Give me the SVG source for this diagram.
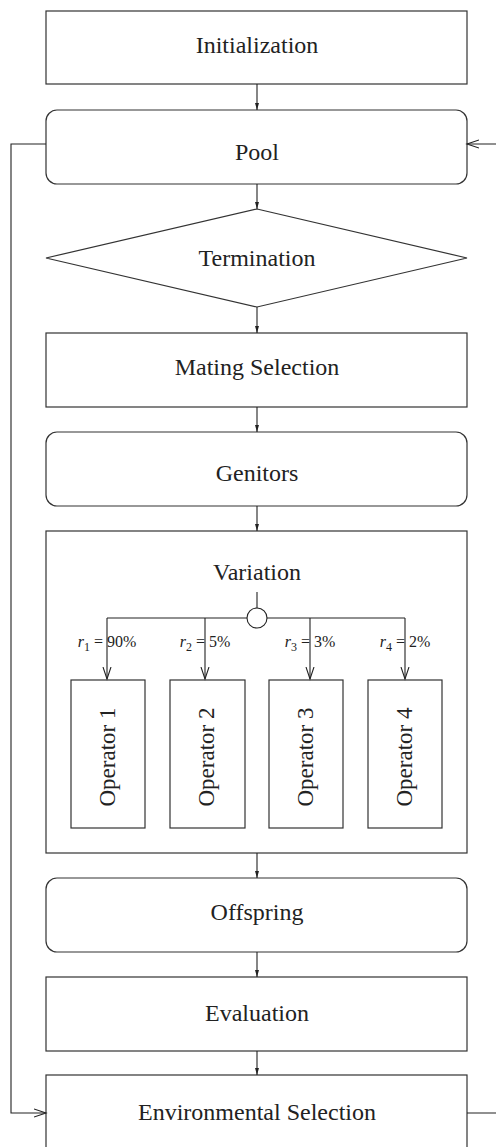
<svg xmlns="http://www.w3.org/2000/svg" width="496" height="1147" viewBox="0 0 496 1147">
<style>
.box{fill:#fff;stroke:#333;stroke-width:1.2}
.ln{fill:none;stroke:#222;stroke-width:1.1}
.t{font-family:"Liberation Serif","Times New Roman",serif;font-size:24px;fill:#222;text-anchor:middle}
.op{font-family:"Liberation Serif","Times New Roman",serif;font-size:23px;fill:#222;text-anchor:middle}
.lb{font-family:"Liberation Serif","Times New Roman",serif;font-size:16px;fill:#222;text-anchor:middle}
</style>
<defs>
<marker id="sm" markerWidth="8" markerHeight="6" refX="7" refY="3" orient="auto" markerUnits="userSpaceOnUse">
<path d="M0,1 L7,3 L0,5 Z" fill="#222"/>
</marker>
<marker id="op" markerWidth="14" markerHeight="10" refX="12" refY="5" orient="auto" markerUnits="userSpaceOnUse">
<path d="M0,1 L12,5 L0,9" fill="none" stroke="#222" stroke-width="1.1"/>
</marker>
</defs>
<g id="initialization">
<rect class="box" x="46" y="11" width="421" height="73"/>
<text class="t" x="257" y="53">Initialization</text>
</g>
<g id="pool">
<rect class="box" x="46" y="110" width="421" height="74" rx="11"/>
<text class="t" x="257" y="160">Pool</text>
</g>
<g id="termination">
<polygon class="box" points="257,209 467,258 257,307 46,258"/>
<text class="t" x="257" y="266">Termination</text>
</g>
<g id="mating">
<rect class="box" x="46" y="333" width="421" height="74"/>
<text class="t" x="257" y="375">Mating Selection</text>
</g>
<g id="genitors">
<rect class="box" x="46" y="432" width="421" height="74" rx="11"/>
<text class="t" x="257" y="481">Genitors</text>
</g>
<g id="variation">
<rect class="box" x="46" y="531" width="421" height="322"/>
<text class="t" x="257" y="580">Variation</text>
</g>
<g id="operator1">
<rect class="box" x="71" y="680" width="74" height="148"/>
<text class="op" transform="translate(115,757) rotate(-90)">Operator 1</text>
</g>
<g id="operator2">
<rect class="box" x="170" y="680" width="75" height="148"/>
<text class="op" transform="translate(214,757) rotate(-90)">Operator 2</text>
</g>
<g id="operator3">
<rect class="box" x="269" y="680" width="74" height="148"/>
<text class="op" transform="translate(313,757) rotate(-90)">Operator 3</text>
</g>
<g id="operator4">
<rect class="box" x="368" y="680" width="74" height="148"/>
<text class="op" transform="translate(412,757) rotate(-90)">Operator 4</text>
</g>
<g id="offspring">
<rect class="box" x="46" y="878" width="421" height="74" rx="11"/>
<text class="t" x="257" y="920">Offspring</text>
</g>
<g id="evaluation">
<rect class="box" x="46" y="977" width="421" height="74"/>
<text class="t" x="257" y="1021">Evaluation</text>
</g>
<g id="environmental">
<rect class="box" x="46" y="1075" width="421" height="74"/>
<text class="t" x="257" y="1120">Environmental Selection</text>
</g>
<g id="connectors">
<line class="ln" x1="257" y1="84" x2="257" y2="110" marker-end="url(#sm)"/>
<line class="ln" x1="257" y1="184" x2="257" y2="209" marker-end="url(#sm)"/>
<line class="ln" x1="257" y1="307" x2="257" y2="333" marker-end="url(#sm)"/>
<line class="ln" x1="257" y1="407" x2="257" y2="432" marker-end="url(#sm)"/>
<line class="ln" x1="257" y1="506" x2="257" y2="531" marker-end="url(#sm)"/>
<line class="ln" x1="257" y1="853" x2="257" y2="878" marker-end="url(#sm)"/>
<line class="ln" x1="257" y1="952" x2="257" y2="977" marker-end="url(#sm)"/>
<line class="ln" x1="257" y1="1051" x2="257" y2="1075" marker-end="url(#sm)"/>
<path class="ln" d="M46,144 L11,144 L11,1113 L46,1113" marker-end="url(#op)"/>
<path class="ln" d="M467,1113 L500,1113 L500,144 L467,144" marker-end="url(#op)"/>
<line class="ln" x1="257" y1="592" x2="257" y2="608"/>
<line class="ln" x1="107" y1="618" x2="405" y2="618"/>
<line class="ln" x1="107" y1="618" x2="107" y2="679" marker-end="url(#op)"/>
<line class="ln" x1="205" y1="618" x2="205" y2="679" marker-end="url(#op)"/>
<line class="ln" x1="310" y1="618" x2="310" y2="679" marker-end="url(#op)"/>
<line class="ln" x1="405" y1="618" x2="405" y2="679" marker-end="url(#op)"/>
<circle cx="257" cy="618" r="10" fill="#fff" stroke="#222" stroke-width="1.1"/>
</g>
<g id="rate-labels">
<text class="lb" x="107" y="647"><tspan font-style="italic">r</tspan><tspan font-size="12" dy="4">1</tspan><tspan dy="-4"> = 90%</tspan></text>
<text class="lb" x="205" y="647"><tspan font-style="italic">r</tspan><tspan font-size="12" dy="4">2</tspan><tspan dy="-4"> = 5%</tspan></text>
<text class="lb" x="310" y="647"><tspan font-style="italic">r</tspan><tspan font-size="12" dy="4">3</tspan><tspan dy="-4"> = 3%</tspan></text>
<text class="lb" x="405" y="647"><tspan font-style="italic">r</tspan><tspan font-size="12" dy="4">4</tspan><tspan dy="-4"> = 2%</tspan></text>
</g>
</svg>
